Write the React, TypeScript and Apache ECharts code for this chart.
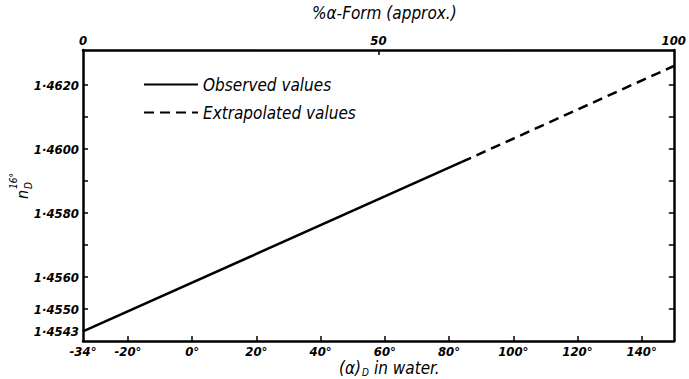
import React, { useEffect, useRef } from "react";
import * as echarts from "echarts";

const observedX = [-34, 84];
const observedY = [1.4543, 1.4596];
const extrapolatedX = [84, 150];
const extrapolatedY = [1.4596, 1.4626];
const bottomTickLabels = [-34, -20, 0, 20, 40, 60, 80, 100, 120, 140];
const bottomTicks = [-20, 0, 20, 40, 60, 80, 100, 120, 140];
const topTickLabels = [0, 50, 100];
const leftTickLabels = [1.4543, 1.455, 1.456, 1.458, 1.46, 1.462];
const yTicks = [1.455, 1.456, 1.457, 1.458, 1.459, 1.46, 1.461, 1.462];

const FONT = "'DejaVu Sans Condensed', 'DejaVu Sans', sans-serif";

export default function App() {
  const ref = useRef<HTMLDivElement>(null);
  useEffect(() => {
    if (!ref.current) return;
    const chart = echarts.init(ref.current, null, { renderer: "svg" });
    const labelStyle = {
      fontFamily: FONT,
      fontStyle: "italic" as const,
      fontWeight: "bold" as const,
      color: "#000",
      fontSize: 13,
    };
    const lineStyleAxis = { color: "#000", width: 2.5 };
    const tickStyle = { width: 1.5, color: "#000" };
    const it = (size: number) => `italic ${size}px ${FONT}`;
    chart.setOption({
      animation: false,
      backgroundColor: "#fff",
      grid: { left: 83, right: 14, top: 50, bottom: 38 },
      legend: {
        orient: "vertical",
        left: 138,
        top: 71,
        itemWidth: 54,
        itemHeight: 12,
        itemGap: 11,
        itemStyle: { opacity: 0 },
        textStyle: { fontFamily: FONT, fontStyle: "italic", fontSize: 17, color: "#000" },
        data: ["Observed values", "Extrapolated values"],
      },
      xAxis: [
        {
          type: "value",
          position: "bottom",
          min: -34,
          max: 150,
          splitLine: { show: false },
          axisLine: { onZero: false, lineStyle: lineStyleAxis },
          axisTick: { inside: true, length: 5, customValues: bottomTicks, lineStyle: tickStyle },
          axisLabel: {
            ...labelStyle,
            customValues: bottomTickLabels,
            margin: 4,
            formatter: (v: number) => `${v}°`,
          },
        },
        {
          type: "value",
          position: "top",
          min: 0,
          max: 100,
          splitLine: { show: false },
          axisLine: { onZero: false, lineStyle: lineStyleAxis },
          axisTick: { inside: true, length: 5, customValues: [50], lineStyle: tickStyle },
          axisLabel: {
            ...labelStyle,
            customValues: topTickLabels,
            margin: 3,
          },
        },
      ],
      yAxis: [
        {
          type: "value",
          position: "left",
          min: 1.454,
          max: 1.4631,
          splitLine: { show: false },
          axisLine: { onZero: false, lineStyle: lineStyleAxis },
          axisTick: { inside: true, length: 5, customValues: yTicks, lineStyle: tickStyle },
          axisLabel: {
            ...labelStyle,
            customValues: leftTickLabels,
            margin: 4,
            formatter: (v: number) => v.toFixed(4).replace(".", "·"),
          },
        },
        {
          type: "value",
          position: "right",
          min: 1.454,
          max: 1.4631,
          splitLine: { show: false },
          axisLine: { onZero: false, lineStyle: lineStyleAxis },
          axisTick: { inside: true, length: 5, customValues: yTicks, lineStyle: tickStyle },
          axisLabel: { show: false },
        },
      ],
      graphic: [
        {
          type: "text",
          left: 312,
          top: 4,
          style: { text: "%α-Form (approx.)", font: it(17), fill: "#000" },
        },
        {
          type: "group",
          left: 339,
          top: 359,
          children: [
            { type: "text", x: 0, y: 0, style: { text: "(α)", font: it(17), fill: "#000" } },
            { type: "text", x: 23, y: 8, style: { text: "D", font: it(10), fill: "#000" } },
            { type: "text", x: 35, y: 0, style: { text: "in water.", font: it(17), fill: "#000" } },
          ],
        },
        {
          type: "group",
          x: 24,
          y: 193,
          rotation: Math.PI / 2,
          children: [
            { type: "text", x: -6, y: -10, style: { text: "n", font: it(16), fill: "#000" } },
            { type: "text", x: 4, y: -1, style: { text: "D", font: it(10), fill: "#000" } },
            { type: "text", x: 4, y: -16, style: { text: "16°", font: it(10), fill: "#000" } },
          ],
        },
      ],
      series: [
        {
          name: "Observed values",
          type: "line",
          xAxisIndex: 0,
          yAxisIndex: 0,
          symbol: "none",
          itemStyle: { color: "#000" },
          lineStyle: { color: "#000", width: 2.5, type: "solid" },
          data: observedX.map((x, i) => [x, observedY[i]]),
        },
        {
          name: "Extrapolated values",
          type: "line",
          xAxisIndex: 0,
          yAxisIndex: 0,
          symbol: "none",
          itemStyle: { color: "#000" },
          lineStyle: { color: "#000", width: 2.5, type: [10, 6] },
          data: extrapolatedX.map((x, i) => [x, extrapolatedY[i]]),
        },
      ],
    });
    return () => chart.dispose();
  }, []);
  return (
    <div
      ref={ref}
      style={{ position: "fixed", left: 0, top: 0, width: 689, height: 379, background: "#fff" }}
    />
  );
}
